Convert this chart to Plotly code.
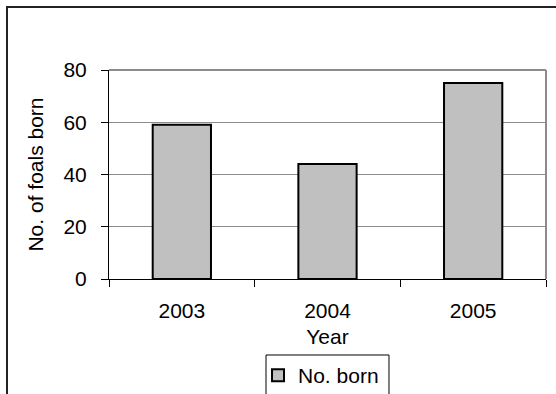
import plotly.graph_objects as go

# Foal births per year
years = ["2003", "2004", "2005"]
foals_born = [59, 44, 75]
series_name = "No. born"
y_ticks = [0, 20, 40, 60, 80]

FONT = "Liberation Sans, Arial, sans-serif"

fig = go.Figure(
    go.Bar(
        x=years,
        y=foals_born,
        name=series_name,
        width=0.4,
        marker=dict(color="#c0c0c0", line=dict(color="#000000", width=2)),
        showlegend=True,
    )
)

fig.update_layout(
    width=556,
    height=394,
    margin=dict(l=109, r=10, t=70, b=115, autoexpand=False),
    paper_bgcolor="white",
    plot_bgcolor="white",
    font=dict(family=FONT, size=21, color="black"),
    showlegend=True,
    legend=dict(
        orientation="h",
        x=0.341,
        xanchor="left",
        y=-0.3636,
        yanchor="top",
        bgcolor="rgba(0,0,0,0)",
        borderwidth=0,
        itemwidth=30,
        font=dict(family=FONT, size=21, color="black"),
    ),
    xaxis=dict(
        type="category",
        automargin=False,
        showgrid=False,
        showline=True,
        linecolor="#000000",
        linewidth=1,
        ticks="outside",
        tickson="boundaries",
        ticklen=7,
        tickcolor="#000000",
        ticklabelstandoff=13,
        title=dict(text="Year", standoff=8, font=dict(size=21)),
        zeroline=False,
    ),
    yaxis=dict(
        range=[0, 80],
        automargin=False,
        tickvals=y_ticks,
        showgrid=True,
        gridcolor="#8c8c8c",
        gridwidth=1,
        showline=True,
        linecolor="#000000",
        linewidth=1,
        ticks="outside",
        ticklen=7,
        tickcolor="#000000",
        ticklabelstandoff=10,
        zeroline=False,
        title=dict(text="No. of foals born", standoff=14, font=dict(size=21)),
    ),
    shapes=[
        # outer chart frame (runs off the right and bottom edges)
        dict(type="rect", xref="paper", yref="paper",
             x0=-0.2334, x1=1.2, y0=-1.0, y1=1.3014,
             line=dict(color="#222222", width=2), layer="below"),
        # plot area border, top and right sides
        dict(type="line", xref="paper", yref="paper", x0=0, x1=1, y0=1, y1=1,
             line=dict(color="#8c8c8c", width=2), layer="below"),
        dict(type="line", xref="paper", yref="paper", x0=1, x1=1, y0=0, y1=1,
             line=dict(color="#8c8c8c", width=2), layer="below"),
        # legend frame
        dict(type="rect", xref="paper", yref="paper",
             x0=0.3593, x1=0.6407, y0=-1.0, y1=-0.3636,
             line=dict(color="#000000", width=1), layer="below"),
    ],
)

fig.write_html("out.html")
